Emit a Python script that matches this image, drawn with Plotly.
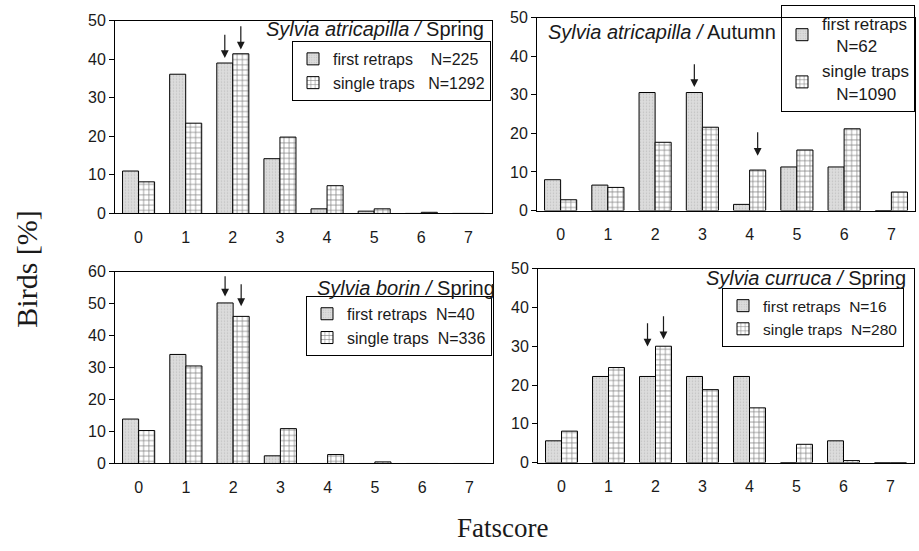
import plotly.graph_objects as go

fatscore = [0, 1, 2, 3, 4, 5, 6, 7]

# Sylvia atricapilla / Spring
atr_spr_first = [11.0, 36.1, 39.0, 14.2, 1.2, 0.6, 0.0, 0.0]
atr_spr_single = [8.2, 23.4, 41.4, 19.8, 7.2, 1.2, 0.3, 0.0]
# Sylvia atricapilla / Autumn
atr_aut_first = [8.0, 6.6, 30.6, 30.6, 1.6, 11.3, 11.3, 0.0]
atr_aut_single = [2.8, 6.0, 17.7, 21.6, 10.5, 15.7, 21.2, 4.8]
# Sylvia borin / Spring
bor_spr_first = [13.9, 34.1, 50.2, 2.4, 0.0, 0.0, 0.0, 0.0]
bor_spr_single = [10.3, 30.5, 46.0, 10.9, 2.8, 0.5, 0.0, 0.0]
# Sylvia curruca / Spring
cur_spr_first = [5.6, 22.2, 22.2, 22.2, 22.2, 0.0, 5.6, 0.0]
cur_spr_single = [8.1, 24.5, 30.0, 18.8, 14.1, 4.7, 0.5, 0.0]

panel_titles = [
    "<i>Sylvia atricapilla /</i> Spring",
    "<i>Sylvia atricapilla /</i> Autumn",
    "<i>Sylvia borin /</i> Spring",
    "<i>Sylvia curruca /</i> Spring",
]
first_names = [
    "first retraps\u00a0\u00a0\u00a0\u00a0N=225",
    "first retraps<br>\u00a0\u00a0\u00a0N=62",
    "first retraps\u00a0\u00a0N=40",
    "first retraps\u00a0\u00a0N=16",
]
single_names = [
    "single traps\u00a0\u00a0\u00a0N=1292",
    "single traps<br>\u00a0\u00a0\u00a0N=1090",
    "single traps\u00a0\u00a0N=336",
    "single traps\u00a0\u00a0N=280",
]
y_max = [50, 50, 60, 50]

# mean fatscore arrows: (panel, series, fatscore, tip value, tail value)
arrow_panel = [0, 0, 1, 1, 2, 2, 3, 3]
arrow_series = ["first", "single", "first", "single", "first", "single", "first", "single"]
arrow_score = [2, 2, 3, 4, 2, 2, 2, 2]
arrow_tip = [40.3, 42.5, 32.0, 14.2, 52.2, 49.2, 29.9, 31.8]
arrow_tail = [46.7, 48.9, 38.3, 20.7, 59.0, 56.5, 36.3, 38.1]

firsts = [atr_spr_first, atr_aut_first, bor_spr_first, cur_spr_first]
singles = [atr_spr_single, atr_aut_single, bor_spr_single, cur_spr_single]

W, H = 919, 551
# plot boxes in pixels (left, right, top, bottom)
boxes = [(115, 492, 13, 212), (537, 915, 10, 209), (115, 493, 272, 470), (538, 914, 269, 469)]
# legend: right edge px, top px, font size, background
legend_pos = [(491, 34, 16, "white"), (915, -3, 17, "rgba(0,0,0,0)"),
              (492, 297, 16, "white"), (904, 289, 15.5, "white")]
title_pos = [(486, 22, "right"), (546, 25, "left"), (497, 289, "right"), (908, 279, "right")]

FONT = "Liberation Sans, Arial, sans-serif"
SERIF = "Liberation Serif, Times New Roman, serif"
TXT = "#1a1a1a"
GRAY = "#dcdcdc"
BARGAP = 0.32
bar_w = (1 - BARGAP) / 2

fig = go.Figure()
layout = dict(
    width=W, height=H, margin=dict(l=0, r=0, t=0, b=0),
    paper_bgcolor="white", plot_bgcolor="white",
    barmode="group", bargap=BARGAP, bargroupgap=0,
    font=dict(family=FONT, size=16, color=TXT),
    showlegend=True,
)
annotations = []

for i in range(4):
    sfx = "" if i == 0 else str(i + 1)
    xa, ya = "x" + sfx, "y" + sfx
    leg = "legend" + sfx
    fig.add_trace(go.Bar(
        x=fatscore, y=firsts[i], name=first_names[i], xaxis=xa, yaxis=ya,
        legend=leg, offsetgroup="a",
        marker=dict(color=GRAY, line=dict(color="black", width=1),
                    pattern=dict(shape=".", fgcolor="#a4a4a4", bgcolor=GRAY,
                                 size=3, solidity=0.18, fillmode="overlay")),
    ))
    fig.add_trace(go.Bar(
        x=fatscore, y=singles[i], name=single_names[i], xaxis=xa, yaxis=ya,
        legend=leg, offsetgroup="b",
        marker=dict(color="white", line=dict(color="black", width=1),
                    pattern=dict(shape="+", fgcolor="black", bgcolor="white",
                                 size=5.2, solidity=0.25, fillmode="overlay")),
    ))
    l, r, t, b = boxes[i]
    layout["xaxis" + sfx] = dict(
        domain=[l / W, r / W], anchor=ya, range=[-0.5, 7.5],
        tickvals=fatscore, ticktext=[str(v) for v in fatscore],
        showline=True, linecolor="black", linewidth=1, mirror=True,
        ticks="", showgrid=False, zeroline=False, ticklabelstandoff=9,
        tickfont=dict(family=FONT, size=16, color=TXT),
    )
    layout["yaxis" + sfx] = dict(
        domain=[1 - b / H, 1 - t / H], anchor=xa, range=[0, y_max[i]], dtick=10,
        showline=True, linecolor="black", linewidth=1, mirror=True,
        ticks="outside", ticklen=5, tickcolor="black", showgrid=False, zeroline=False,
        tickfont=dict(family=FONT, size=16, color=TXT),
    )
    lx, ly, lfs, lbg = legend_pos[i]
    layout[leg] = dict(
        x=lx / W, y=1 - ly / H, xanchor="right", yanchor="top",
        xref="paper", yref="paper",
        bgcolor=lbg, bordercolor="black", borderwidth=1,
        font=dict(family=FONT, size=lfs, color=TXT),
        itemwidth=30, tracegroupgap=0,
    )
    tx, ty, tanchor = title_pos[i]
    annotations.append(dict(
        x=tx / W, y=1 - ty / H, xref="paper", yref="paper",
        xanchor=tanchor, yanchor="middle", showarrow=False,
        text=panel_titles[i], font=dict(family=FONT, size=20, color=TXT),
    ))

for k in range(len(arrow_panel)):
    p = arrow_panel[k]
    sfx = "" if p == 0 else str(p + 1)
    off = -bar_w / 2 if arrow_series[k] == "first" else bar_w / 2
    xv = arrow_score[k] + off
    annotations.append(dict(
        x=xv, y=arrow_tip[k], ax=xv, ay=arrow_tail[k],
        xref="x" + sfx, yref="y" + sfx, axref="x" + sfx, ayref="y" + sfx,
        text="", showarrow=True, arrowhead=2, arrowsize=1.3, arrowwidth=1.2,
        arrowcolor="#1a1a1a", standoff=0, startstandoff=0,
    ))

annotations.append(dict(
    x=27 / W, y=1 - 270 / H, xref="paper", yref="paper", showarrow=False,
    text="Birds [%]", textangle=-90, xanchor="center", yanchor="middle",
    font=dict(family=SERIF, size=30, color=TXT),
))
annotations.append(dict(
    x=502 / W, y=1 - 537 / H, xref="paper", yref="paper", showarrow=False,
    text="Fatscore", xanchor="center", yanchor="middle",
    font=dict(family=SERIF, size=27, color=TXT),
))
layout["annotations"] = annotations

fig.update_layout(**layout)
fig.write_html("out.html")
